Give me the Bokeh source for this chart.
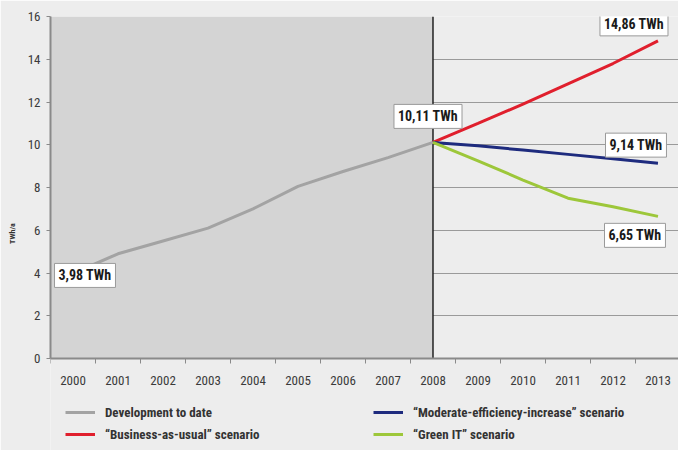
from bokeh.plotting import figure
from bokeh.models import (Range1d, FixedTicker, BoxAnnotation, Label,
                          Legend, LegendItem)
from bokeh.embed import file_html
from bokeh.resources import INLINE

# Electricity consumption (TWh per year)
years_hist = [2000, 2001, 2002, 2003, 2004, 2005, 2006, 2007, 2008]
development = [3.98, 4.9, 5.5, 6.1, 7.0, 8.05, 8.75, 9.4, 10.11]

years_scen = [2008, 2009, 2010, 2011, 2012, 2013]
business_as_usual = [10.11, 11.0, 11.9, 12.85, 13.8, 14.86]
moderate_efficiency = [10.11, 9.95, 9.75, 9.55, 9.35, 9.14]
green_it = [10.11, 9.25, 8.35, 7.5, 7.1, 6.65]

year_ticks = list(range(2000, 2014))
y_ticks = [0, 2, 4, 6, 8, 10, 12, 14, 16]

legend_labels = ["Development to date",
                 "\u201cBusiness-as-usual\u201d scenario",
                 "\u201cModerate-efficiency-increase\u201d scenario",
                 "\u201cGreen IT\u201d scenario"]

FONT = "'Roboto Condensed', 'Liberation Sans Narrow', 'Liberation Sans', sans-serif"
BG = "#ededed"
GRID = "#9a9a9a"
AXIS = "#8a8a8a"

GRAY = "#a3a3a3"
RED = "#e01f2d"
BLUE = "#1e2b7e"
GREEN = "#9dc73a"

# The frame runs to the bottom edge so the legend can sit under the x axis;
# the value axis is pinned at y = 0.
p = figure(width=678, height=450, output_backend="svg", toolbar_location=None,
           x_range=Range1d(1999.5, 2013.456), y_range=Range1d(-4.304, 16),
           min_border_left=50, min_border_right=0, min_border_top=16,
           min_border_bottom=0)
p.background_fill_color = BG
p.border_fill_color = BG
p.outline_line_color = None

# shaded "history" region up to 2008
p.add_layout(BoxAnnotation(right=years_hist[-1], bottom=y_ticks[0], top=y_ticks[-1],
                           fill_color="#d4d4d4", fill_alpha=1,
                           line_color=None, level="underlay"))

p.xgrid.grid_line_color = None
p.ygrid.ticker = FixedTicker(ticks=y_ticks)
p.ygrid.grid_line_color = GRID
p.ygrid.grid_line_width = 1

# y axis
p.yaxis.ticker = FixedTicker(ticks=y_ticks)
p.yaxis.bounds = (y_ticks[0], y_ticks[-1])
p.yaxis.axis_line_color = AXIS
p.yaxis.axis_line_width = 2
p.yaxis.major_tick_line_color = AXIS
p.yaxis.major_tick_out = 4
p.yaxis.major_tick_in = 0
p.yaxis.minor_tick_line_color = None
p.yaxis.major_label_standoff = 6
p.yaxis.major_label_text_font = FONT
p.yaxis.major_label_text_font_size = "13px"
p.yaxis.major_label_text_color = "#3a3a3a"
p.yaxis.axis_label = "TWh/a"
p.yaxis.axis_label_text_font = FONT
p.yaxis.axis_label_text_font_size = "8px"
p.yaxis.axis_label_text_font_style = "bold"
p.yaxis.axis_label_text_color = "#333333"
p.yaxis.axis_label_standoff = 8

# x axis: year labels at the centres, tick marks between the years
boundaries = [y - 0.5 for y in year_ticks] + [year_ticks[-1] + 0.5]
p.xaxis.fixed_location = y_ticks[0]
p.xaxis.ticker = FixedTicker(ticks=year_ticks, minor_ticks=boundaries)
p.xaxis.axis_line_color = AXIS
p.xaxis.axis_line_width = 2
p.xaxis.major_tick_line_color = None
p.xaxis.major_tick_out = 5
p.xaxis.minor_tick_line_color = AXIS
p.xaxis.minor_tick_line_width = 1
p.xaxis.minor_tick_out = 5
p.xaxis.minor_tick_in = 0
p.xaxis.major_label_standoff = 12
p.xaxis.major_label_text_font = FONT
p.xaxis.major_label_text_font_size = "13px"
p.xaxis.major_label_text_color = "#3a3a3a"

# 2008 divider
p.segment(x0=[years_hist[-1]], y0=[y_ticks[0]], x1=[years_hist[-1]], y1=[y_ticks[-1]],
          line_color="#222222", line_width=1.5)

r_dev = p.line(years_hist, development, line_color=GRAY, line_width=3)
r_bau = p.line(years_scen, business_as_usual, line_color=RED, line_width=3)
r_mod = p.line(years_scen, moderate_efficiency, line_color=BLUE, line_width=3)
r_grn = p.line(years_scen, green_it, line_color=GREEN, line_width=3)

# value call-outs
def callout(x, y, text, dx, dy):
    p.add_layout(Label(x=x, y=y, x_offset=dx, y_offset=dy, text=text,
                       text_align="center", text_baseline="middle",
                       text_font=FONT, text_font_size="14px",
                       text_font_style="bold", text_color="#1a1a1a",
                       background_fill_color="white", background_fill_alpha=1,
                       border_line_color="#9a9a9a", border_line_width=1,
                       padding=4))

fmt = lambda v: f"{v:.2f}".replace(".", ",") + " TWh"
callout(years_hist[0], development[0], fmt(development[0]), 12, -2)
callout(years_hist[-1], development[-1], fmt(development[-1]), -5, 26)
callout(years_scen[-1], business_as_usual[-1], fmt(business_as_usual[-1]), -24, 17)
callout(years_scen[-1], moderate_efficiency[-1], fmt(moderate_efficiency[-1]), -22, 18)
callout(years_scen[-1], green_it[-1], fmt(green_it[-1]), -23, -19)

# two-column legend under the axis
legend = Legend(items=[LegendItem(label=legend_labels[0], renderers=[r_dev]),
                       LegendItem(label=legend_labels[1], renderers=[r_bau]),
                       LegendItem(label=legend_labels[2], renderers=[r_mod]),
                       LegendItem(label=legend_labels[3], renderers=[r_grn])],
                location=(15, 8), orientation="vertical", ncols=2,
                background_fill_alpha=0, border_line_alpha=0,
                label_text_font=FONT, label_text_font_size="13px",
                label_text_font_style="bold", label_text_color="#333333",
                glyph_width=30, glyph_height=16, label_standoff=10,
                label_width=262, label_height=16, spacing=6,
                padding=0, margin=0)
p.add_layout(legend, "center")

open("out.html", "w").write(file_html(p, INLINE))
